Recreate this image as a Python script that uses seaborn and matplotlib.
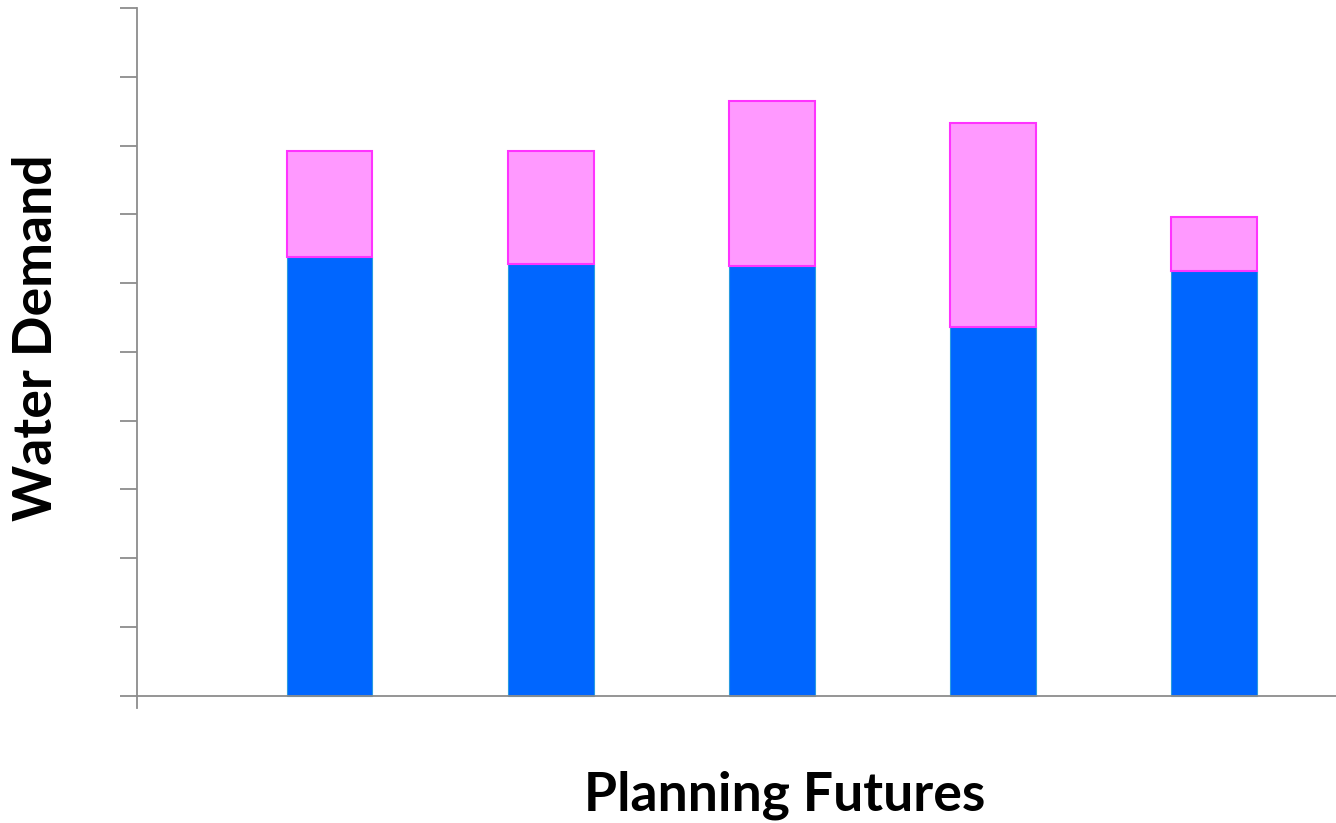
import matplotlib
matplotlib.use("Agg")
import matplotlib.pyplot as plt
import numpy as np
import pandas as pd
import seaborn as sns

# Planning futures and their water demand components
futures = ["Future 1", "Future 2", "Future 3", "Future 4", "Future 5"]
base_demand = [6.38, 6.28, 6.25, 5.36, 6.17]
added_demand = [1.54, 1.64, 2.40, 2.97, 0.79]

df = pd.DataFrame({"future": futures, "base": base_demand, "added": added_demand})

sns.set_theme(style="white")
plt.rcParams["font.family"] = ["Lato", "DejaVu Sans"]

fig = plt.figure(figsize=(13.36, 8.23), dpi=100)
ax = fig.add_axes([137 / 1336, (823 - 708) / 823, 1 - 137 / 1336, (708 - 8) / 823])

# Base segment, then the added segment stacked on top of it
sns.barplot(data=df, x="future", y="base", ax=ax, color="#0066FF",
            saturation=1, width=0.385, edgecolor="#2A9BE0", linewidth=0.8)
sns.barplot(data=df, x="future", y="added", ax=ax, color="#FF99FF",
            saturation=1, width=0.385, edgecolor="#FF33FF", linewidth=1.5,
            bottom=df["base"].to_numpy())

ax.set_xlim(-0.873, 4.552)
ax.set_ylim(-0.18, 10)
ax.axhline(0, color="#8c8c8c", lw=1.3, zorder=5)

for s in ["top", "right", "bottom"]:
    ax.spines[s].set_visible(False)
ax.spines["left"].set_color("#8c8c8c")
ax.spines["left"].set_linewidth(1.3)

ax.set_yticks(np.arange(0, 11, 1))
ax.set_yticklabels([])
ax.set_xticks([])
ax.tick_params(axis="y", which="both", left=True, length=12, width=1.3,
               color="#8c8c8c", direction="out")

ax.set_xlabel("")
ax.set_ylabel("")
fig.text(37 / 1336, 1 - 338 / 823, "Water Demand", rotation=90, ha="center",
         va="center", fontsize=38.5, fontweight="bold", color="black")
fig.text(785 / 1336, 1 - 795 / 823, "Planning Futures", ha="center",
         va="center", fontsize=38.5, fontweight="bold", color="black")

fig.savefig("out.png", dpi=100)
